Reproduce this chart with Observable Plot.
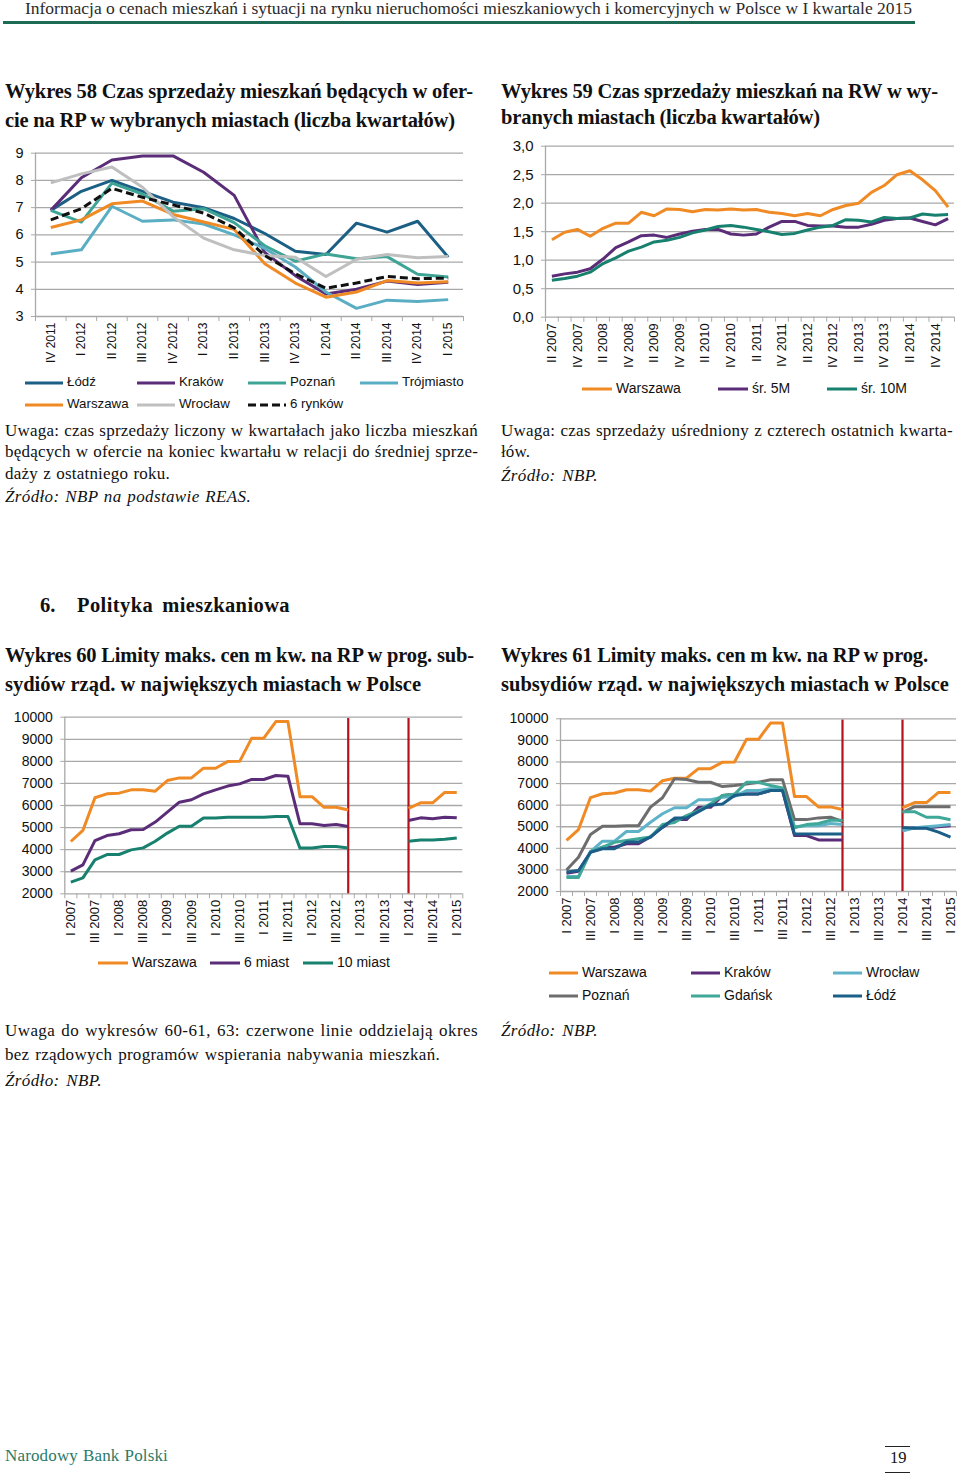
<!DOCTYPE html>
<html><head><meta charset="utf-8">
<script src="https://cdn.jsdelivr.net/npm/d3@7"></script>
<script src="https://cdn.jsdelivr.net/npm/@observablehq/plot@0.6"></script>
<style>
html,body{margin:0;padding:0;background:#fff;}
body{width:960px;height:1474px;position:relative;overflow:hidden;}
.t{position:absolute;white-space:nowrap;}
.chart{position:absolute;}
</style>
</head><body>
<script>
// ---------------- DATA ----------------
const q58 = ["IV 2011","I 2012","II 2012","III 2012","IV 2012","I 2013","II 2013","III 2013","IV 2013","I 2014","II 2014","III 2014","IV 2014","I 2015"];
const lodz58       = [6.9, 7.6, 8.0, 7.6, 7.2, 7.0, 6.6, 6.05, 5.4, 5.28, 6.43, 6.1, 6.5, 5.18];
const krakow58     = [6.9, 8.1, 8.75, 8.9, 8.9, 8.3, 7.45, 5.35, 4.5, 3.83, 4.0, 4.3, 4.18, 4.26];
const poznan58     = [6.9, 6.47, 7.9, 7.5, 6.87, 6.96, 6.45, 5.6, 5.03, 5.3, 5.12, 5.2, 4.55, 4.45];
const trojmiasto58 = [5.3, 5.45, 7.05, 6.5, 6.55, 6.4, 6.0, 5.5, 4.82, 3.9, 3.3, 3.6, 3.55, 3.62];
const warszawa58   = [6.27, 6.55, 7.14, 7.24, 6.75, 6.47, 6.2, 4.94, 4.23, 3.71, 3.9, 4.32, 4.23, 4.28];
const wroclaw58    = [7.91, 8.24, 8.49, 7.75, 6.67, 5.88, 5.45, 5.24, 5.18, 4.47, 5.1, 5.28, 5.16, 5.2];
const rynki58      = [6.55, 6.96, 7.71, 7.38, 7.1, 6.8, 6.26, 5.24, 4.57, 4.04, 4.23, 4.47, 4.39, 4.41];
const yTicks58 = [3,4,5,6,7,8,9];

const q59 = ["II 2007","III 2007","IV 2007","I 2008","II 2008","III 2008","IV 2008","I 2009","II 2009","III 2009","IV 2009","I 2010","II 2010","III 2010","IV 2010","I 2011","II 2011","III 2011","IV 2011","I 2012","II 2012","III 2012","IV 2012","I 2013","II 2013","III 2013","IV 2013","I 2014","II 2014","III 2014","IV 2014","I 2015"];
const warszawa59 = [1.36,1.49,1.54,1.42,1.56,1.65,1.65,1.84,1.78,1.90,1.89,1.85,1.89,1.88,1.90,1.88,1.89,1.84,1.82,1.78,1.82,1.78,1.89,1.96,2.00,2.19,2.31,2.50,2.57,2.41,2.22,1.93];
const sr5M59     = [0.72,0.76,0.79,0.85,1.02,1.22,1.32,1.43,1.44,1.40,1.46,1.51,1.54,1.54,1.46,1.44,1.46,1.58,1.68,1.68,1.61,1.60,1.60,1.58,1.58,1.63,1.70,1.73,1.74,1.68,1.62,1.73];
const sr10M59    = [0.65,0.68,0.72,0.79,0.94,1.04,1.16,1.23,1.32,1.35,1.40,1.48,1.53,1.59,1.61,1.58,1.54,1.50,1.45,1.47,1.53,1.58,1.61,1.71,1.70,1.67,1.75,1.73,1.74,1.81,1.79,1.80];
const yTicks59 = [0,0.5,1,1.5,2,2.5,3];

const q60 = ["I 2007","II 2007","III 2007","IV 2007","I 2008","II 2008","III 2008","IV 2008","I 2009","II 2009","III 2009","IV 2009","I 2010","II 2010","III 2010","IV 2010","I 2011","II 2011","III 2011","IV 2011","I 2012","II 2012","III 2012","IV 2012","I 2013","II 2013","III 2013","IV 2013","I 2014","II 2014","III 2014","IV 2014","I 2015"];
const _ = null;
const warszawaLim = [4370,4870,6350,6530,6560,6710,6710,6650,7130,7250,7250,7690,7690,7990,8000,9050,9050,9800,9800,6400,6400,5920,5920,5800,_,_,_,_,5870,6120,6120,6590,6590];
const miast6Lim   = [3030,3310,4410,4640,4720,4900,4910,5250,5700,6150,6260,6530,6710,6880,6980,7180,7180,7360,7330,5170,5170,5090,5140,5050,_,_,_,_,5320,5440,5400,5470,5440];
const miast10Lim  = [2530,2720,3540,3780,3780,3990,4080,4380,4750,5060,5060,5430,5430,5470,5470,5470,5470,5500,5500,4070,4070,4140,4140,4070,_,_,_,_,4380,4440,4440,4470,4530];
const krakowLim   = [2850,2940,3820,4050,4050,4210,4210,4540,4970,5330,5330,5900,5900,6450,6500,6520,6520,6680,6680,4590,4590,4390,4390,4390,_,_,_,_,4850,4950,4950,5000,5050];
const wroclawLim  = [2700,2700,3850,4330,4330,4780,4780,5210,5600,5880,5880,6250,6250,6370,6400,6680,6680,6760,6760,5000,5050,5050,5150,5100,_,_,_,_,4800,4950,5000,5050,5100];
const poznanLim   = [3000,3590,4640,5020,5020,5050,5050,5910,6340,7220,7190,7060,7060,6860,6910,6980,7060,7180,7180,5330,5330,5410,5440,5250,_,_,_,_,5670,5930,5930,5930,5930];
const gdanskLim   = [2650,2650,3850,4050,4280,4360,4440,4520,5100,5200,5520,5750,6060,6450,6500,7060,7060,6910,6800,4950,5100,5150,5300,5300,_,_,_,_,5700,5700,5440,5440,5320];
const lodzLim     = [2900,2970,3820,3980,3980,4290,4290,4520,4980,5400,5400,5700,6000,6050,6450,6520,6520,6680,6680,4660,4660,4660,4660,4660,_,_,_,_,4970,4930,4930,4750,4520];
const yTicksLim = [2000,3000,4000,5000,6000,7000,8000,9000,10000];
const separators = ["IV 2012","I 2014"];

// ---------------- COLORS ----------------
const C = {orange:"#f08a24", purple:"#5b2d79", teal10:"#17806e", lodz:"#1c5f85", poznan58:"#3ea596",
  troj:"#5aaec3", grey58:"#bfbfbf", wroc61:"#5eb3c8", poz61:"#6d6d6d", gdansk:"#3fa898", lodz61:"#1b5f88"};

// ---------------- HELPERS ----------------
const SERIF = '"Liberation Serif", "Times New Roman", serif';
const SANS = '"Liberation Sans", Arial, sans-serif';
function txt(t, x, cy, o = {}) {
  const fs = o.size || 17;
  const d = document.createElement("div");
  d.className = "t";
  d.textContent = t;
  d.style.left = x + "px";
  d.style.top = (cy - fs * 0.58) + "px";
  d.style.fontSize = fs + "px";
  d.style.lineHeight = fs + "px";
  d.style.fontFamily = o.family || SERIF;
  d.style.fontWeight = o.bold ? "bold" : "normal";
  d.style.fontStyle = o.italic ? "italic" : "normal";
  d.style.color = o.color || "#111";
  document.body.appendChild(d);
  if (o.width) {
    const nat = d.getBoundingClientRect().width;
    const n = [...t].length;
    const extra = o.width - nat;
    const spaces = (t.match(/ /g) || []).length;
    // spread mostly over letters, a little over spaces
    const ls = extra * 0.7 / n;
    d.style.letterSpacing = ls + "px";
    if (spaces > 0) d.style.wordSpacing = (extra * 0.3 / spaces) + "px";
    else d.style.letterSpacing = (extra / n) + "px";
  }
  return d;
}
function legendItem(x, cy, len, label, color, dash, fs) {
  const s = document.createElementNS("http://www.w3.org/2000/svg", "svg");
  s.setAttribute("width", len); s.setAttribute("height", 6);
  s.style.position = "absolute"; s.style.left = x + "px"; s.style.top = (cy - 3) + "px";
  const l = document.createElementNS("http://www.w3.org/2000/svg", "line");
  l.setAttribute("x1", 0); l.setAttribute("x2", len); l.setAttribute("y1", 3); l.setAttribute("y2", 3);
  l.setAttribute("stroke", color); l.setAttribute("stroke-width", 3);
  if (dash) l.setAttribute("stroke-dasharray", dash);
  s.appendChild(l);
  document.body.appendChild(s);
  txt(label, x + len + 4, cy, {size: fs, family: SANS, color: "#111"});
}
function chart(cfg) {
  const {left, top, width, height, mL, mR, mT, mB, labels, showLabel, yDomain, yTicks, yFmt, series, yFont, xFont, seps} = cfg;
  const n = labels.length;
  const marks = [
    Plot.ruleY(yTicks, {stroke: "#a9a9a9", strokeWidth: 1.3}),
    Plot.ruleX([-0.5], {stroke: "#a9a9a9", strokeWidth: 1.3}),
    Plot.axisY({ticks: yTicks, tickSize: 4, tickPadding: 8, tickFormat: yFmt, stroke: "#a9a9a9", fill: "#111", fontSize: yFont, label: null}),
    Plot.axisX({ticks: d3.range(n + 1).map(k => k - 0.5), tickSize: 5, tickFormat: () => "", stroke: "#a9a9a9", label: null}),
    Plot.axisX({ticks: d3.range(n).filter(showLabel), tickSize: 0, tickPadding: 6, tickRotate: -90, tickFormat: i => labels[i], fill: "#111", fontSize: xFont, label: null})
  ];
  if (seps) marks.push(Plot.ruleX(seps.map(s => labels.indexOf(s)), {y1: yDomain[0], y2: yDomain[1] - 60, stroke: "#b5121b", strokeWidth: 2.2}));
  for (const s of series) {
    marks.push(Plot.line(s.values.map((v, i) => ({i, v})), {x: "i", y: "v", stroke: s.color, strokeWidth: 3, strokeDasharray: s.dash, strokeLinejoin: "round", strokeLinecap: "butt"}));
  }
  const p = Plot.plot({
    width, height, marginLeft: mL, marginRight: mR, marginTop: mT, marginBottom: mB,
    x: {type: "linear", domain: [-0.5, n - 0.5]},
    y: {type: "linear", domain: yDomain},
    style: {fontFamily: SANS, background: "transparent", overflow: "visible"},
    marks
  });
  p.classList.add("chart");
  p.style.left = left + "px"; p.style.top = top + "px";
  document.body.appendChild(p);
}

// ---------------- HEADER ----------------
txt("Informacja o cenach mieszkań i sytuacji na rynku nieruchomości mieszkaniowych i komercyjnych w Polsce w I kwartale 2015", 25, 10, {size: 17.5, width: 887, color: "#2a2a2a"});
{ const r = document.createElement("div"); r.style.cssText = "position:absolute;left:3px;top:21px;width:912px;height:3px;background:#1d6b55;"; document.body.appendChild(r); }

// ---------------- TITLES ----------------
txt("Wykres 58 Czas sprzedaży mieszkań będących w ofer-", 5, 93, {size: 20.5, bold: true, width: 468});
txt("cie na RP w wybranych miastach (liczba kwartałów)", 5, 122, {size: 20.5, bold: true, width: 450});
txt("Wykres 59 Czas sprzedaży mieszkań na RW w wy-", 501, 93, {size: 20.5, bold: true, width: 437});
txt("branych miastach (liczba kwartałów)", 501, 119, {size: 20.5, bold: true, width: 319});

// ---------------- CHART 58 ----------------
chart({left: 0, top: 140, width: 480, height: 230, mL: 35, mR: 17, mT: 12.7, mB: 54,
  labels: q58, showLabel: () => true, yDomain: [3, 9], yTicks: yTicks58, yFmt: d => String(d), yFont: 14.5, xFont: 12,
  series: [
    {values: lodz58, color: C.lodz}, {values: krakow58, color: C.purple}, {values: poznan58, color: C.poznan58},
    {values: trojmiasto58, color: C.troj}, {values: warszawa58, color: C.orange}, {values: wroclaw58, color: C.grey58},
    {values: rynki58, color: "#111", dash: "8,4"}
  ]});
legendItem(25, 383, 38, "Łódź", C.lodz, null, 13.3);
legendItem(137, 383, 38, "Kraków", C.purple, null, 13.3);
legendItem(248, 383, 38, "Poznań", C.poznan58, null, 13.3);
legendItem(360, 383, 38, "Trójmiasto", C.troj, null, 13.3);
legendItem(25, 405, 38, "Warszawa", C.orange, null, 13.3);
legendItem(137, 405, 38, "Wrocław", C.grey58, null, 13.3);
legendItem(248, 405, 38, "6 rynków", "#111", "8,4", 13.3);

// ---------------- CHART 59 ----------------
chart({left: 495, top: 130, width: 465, height: 245, mL: 50, mR: 6, mT: 15.7, mB: 58.3,
  labels: q59, showLabel: i => i % 2 === 0, yDomain: [0, 3], yTicks: yTicks59, yFmt: d => d.toFixed(1).replace(".", ","), yFont: 15, xFont: 13,
  series: [{values: warszawa59, color: C.orange}, {values: sr5M59, color: C.purple}, {values: sr10M59, color: C.teal10}]});
legendItem(582, 389, 30, "Warszawa", C.orange, null, 14);
legendItem(718, 389, 30, "śr. 5M", C.purple, null, 14);
legendItem(827, 389, 30, "śr. 10M", C.teal10, null, 14);

// ---------------- NOTES 58/59 ----------------
txt("Uwaga: czas sprzedaży liczony w kwartałach jako liczba mieszkań", 5, 432, {width: 473});
txt("będących w ofercie na koniec kwartału w relacji do średniej sprze-", 5, 453, {width: 473});
txt("daży z ostatniego roku.", 5, 475, {width: 165});
txt("Źródło: NBP na podstawie REAS.", 5, 498, {italic: true, width: 246});
txt("Uwaga: czas sprzedaży uśredniony z czterech ostatnich kwarta-", 501, 432, {width: 452});
txt("łów.", 501, 453, {width: 29});
txt("Źródło: NBP.", 501, 477, {italic: true, width: 97});

// ---------------- SECTION ----------------
txt("6.", 40, 607, {size: 20.5, bold: true});
txt("Polityka mieszkaniowa", 77, 607, {size: 20.5, bold: true, width: 213});

txt("Wykres 60 Limity maks. cen m kw. na RP w prog. sub-", 5, 657, {size: 20.5, bold: true, width: 469});
txt("sydiów rząd. w największych miastach w Polsce", 5, 686, {size: 20.5, bold: true, width: 416});
txt("Wykres 61 Limity maks. cen m kw. na RP w prog.", 501, 657, {size: 20.5, bold: true, width: 427});
txt("subsydiów rząd. w największych miastach w Polsce", 501, 686, {size: 20.5, bold: true, width: 448});

// ---------------- CHART 60 ----------------
chart({left: 0, top: 700, width: 480, height: 250, mL: 64.3, mR: 17.7, mT: 16.7, mB: 56.7,
  labels: q60, showLabel: i => i % 2 === 0, yDomain: [2000, 10000], yTicks: yTicksLim, yFmt: d => String(d), yFont: 14, xFont: 13, seps: separators,
  series: [{values: warszawaLim, color: C.orange}, {values: miast6Lim, color: C.purple}, {values: miast10Lim, color: C.teal10}]});
legendItem(98, 963, 30, "Warszawa", C.orange, null, 14);
legendItem(210, 963, 30, "6 miast", C.purple, null, 14);
legendItem(303, 963, 30, "10 miast", C.teal10, null, 14);

// ---------------- CHART 61 ----------------
chart({left: 480, top: 700, width: 480, height: 250, mL: 80, mR: 4, mT: 18.3, mB: 59,
  labels: q60, showLabel: i => i % 2 === 0, yDomain: [2000, 10000], yTicks: yTicksLim, yFmt: d => String(d), yFont: 14, xFont: 13, seps: separators,
  series: [{values: warszawaLim, color: C.orange}, {values: krakowLim, color: C.purple}, {values: wroclawLim, color: C.wroc61},
           {values: poznanLim, color: C.poz61}, {values: gdanskLim, color: C.gdansk}, {values: lodzLim, color: C.lodz61}]});
legendItem(549, 972.7, 29, "Warszawa", C.orange, null, 14);
legendItem(691, 972.7, 29, "Kraków", C.purple, null, 14);
legendItem(833, 972.7, 29, "Wrocław", C.wroc61, null, 14);
legendItem(549, 995.7, 29, "Poznań", C.poz61, null, 14);
legendItem(691, 995.7, 29, "Gdańsk", C.gdansk, null, 14);
legendItem(833, 995.7, 29, "Łódź", C.lodz61, null, 14);

// ---------------- NOTES 60/61 ----------------
txt("Uwaga do wykresów 60-61, 63: czerwone linie oddzielają okres", 5, 1032, {width: 473});
txt("bez rządowych programów wspierania nabywania mieszkań.", 5, 1056, {width: 435});
txt("Źródło: NBP.", 5, 1082, {italic: true, width: 97});
txt("Źródło: NBP.", 501, 1032, {italic: true, width: 97});

// ---------------- FOOTER ----------------
txt("Narodowy Bank Polski", 5, 1457, {size: 17, color: "#2b7a68", width: 163});
txt("19", 890, 1460, {size: 16.5});
{ const a = document.createElement("div"); a.style.cssText = "position:absolute;left:885px;top:1446px;width:25px;height:1px;background:#222;"; document.body.appendChild(a);
  const b = document.createElement("div"); b.style.cssText = "position:absolute;left:885px;top:1472px;width:25px;height:1px;background:#222;"; document.body.appendChild(b); }
</script>
</body></html>
